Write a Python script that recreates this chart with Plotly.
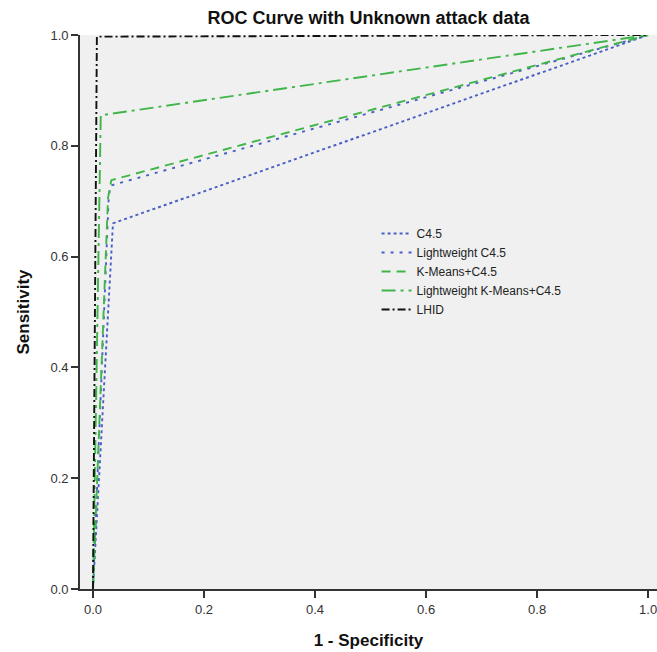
import plotly.graph_objects as go

# ROC curve data (1 - specificity, sensitivity)
c45_x = [0.0, 0.036, 1.0]
c45_y = [0.0, 0.660, 1.0]

lw_c45_x = [0.0, 0.028, 0.031, 1.0]
lw_c45_y = [0.0, 0.700, 0.728, 1.0]

km_c45_x = [0.0, 0.027, 0.033, 1.0]
km_c45_y = [0.0, 0.705, 0.738, 1.0]

lw_km_c45_x = [0.0, 0.014, 1.0]
lw_km_c45_y = [0.0, 0.855, 1.0]

lhid_x = [0.0, 0.007, 1.0]
lhid_y = [0.0, 0.997, 1.0]

series_names = ["C4.5", "Lightweight C4.5", "K-Means+C4.5",
                "Lightweight K-Means+C4.5", "LHID"]
tick_vals = [0.0, 0.2, 0.4, 0.6, 0.8, 1.0]
tick_text = ["0.0", "0.2", "0.4", "0.6", "0.8", "1.0"]

BLUE = "#4a5fc4"
GREEN = "#3fb54a"
BLACK = "#111111"

styles = [
    (c45_x, c45_y, BLUE, "dot"),
    (lw_c45_x, lw_c45_y, BLUE, "3px,6px"),
    (km_c45_x, km_c45_y, GREEN, "9px,6px"),
    (lw_km_c45_x, lw_km_c45_y, GREEN, "14px,5px,3px,5px"),
    (lhid_x, lhid_y, BLACK, "8px,3px,2px,3px"),
]

fig = go.Figure()
for name, (xs, ys, col, dash) in zip(series_names, styles):
    fig.add_trace(go.Scatter(
        x=xs, y=ys, mode="lines", name=name,
        line=dict(color=col, width=1.9, dash=dash),
    ))

axis_common = dict(
    showgrid=False, zeroline=False, showline=True,
    linecolor="#333333", linewidth=1.8,
    ticks="outside", ticklen=7, tickwidth=1.5, tickcolor="#333333",
    tickvals=tick_vals, ticktext=tick_text,
    tickfont=dict(family="Arial, Liberation Sans", size=13, color="#333333"),
    automargin=False, ticklabeloverflow="allow",
)

fig.update_layout(
    width=657, height=652,
    margin=dict(l=80, r=0, t=35, b=63),
    paper_bgcolor="white",
    plot_bgcolor="#f0f0f0",
    title=dict(text="<b>ROC Curve with Unknown attack data</b>",
               x=(80 + 657) / 2 / 657, xanchor="center",
               y=1 - 18 / 652, yanchor="middle",
               font=dict(family="Arial, Liberation Sans", size=18, color="#111111")),
    xaxis=dict(range=[-0.0234, 1.016],
               title=dict(text="<b>1 - Specificity</b>", standoff=19,
                          font=dict(family="Arial, Liberation Sans", size=17, color="#111111")),
               **axis_common),
    yaxis=dict(range=[0, 1.0],
               title=dict(text="<b>Sensitivity</b>", standoff=16,
                          font=dict(family="Arial, Liberation Sans", size=17, color="#111111")),
               **axis_common),
    legend=dict(x=0.514, y=0.668, xanchor="left", yanchor="top",
                bgcolor="rgba(0,0,0,0)", borderwidth=0,
                font=dict(family="Arial, Liberation Sans", size=12, color="#222222"),
                tracegroupgap=0),
    showlegend=True,
)

fig.write_html(
    "out.html",
    config={"displayModeBar": False},
    post_script="document.body.style.margin='0';document.body.style.overflow='hidden';",
)
